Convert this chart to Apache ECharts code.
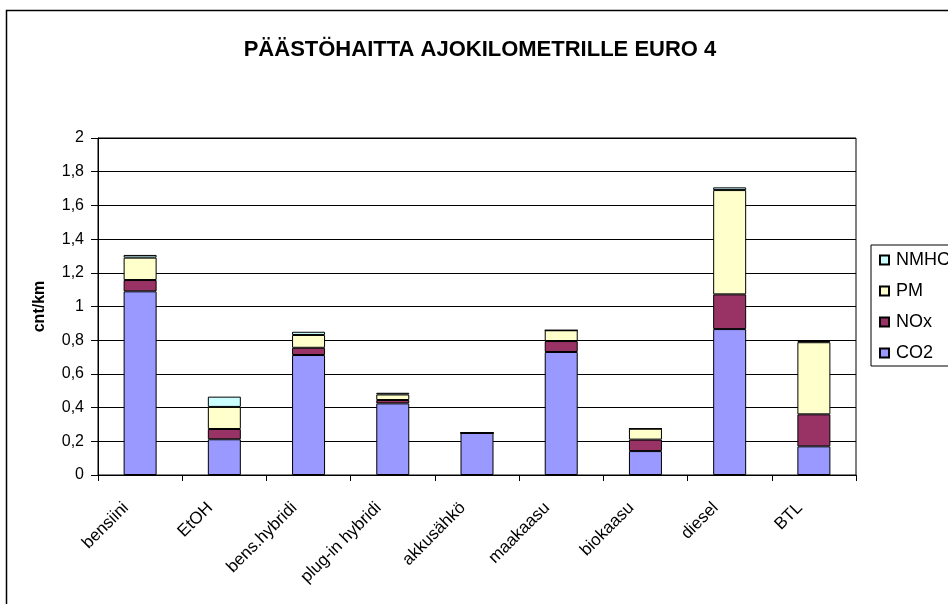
<!DOCTYPE html>
<html>
<head>
<meta charset="utf-8">
<script src="https://cdn.jsdelivr.net/npm/echarts@6/dist/echarts.min.js"></script>
<style>
html,body{margin:0;padding:0;background:#fff;}
#c{width:948px;height:604px;}
</style>
</head>
<body>
<div id="c"></div>
<script>
const categories = ['bensiini','EtOH','bens.hybridi','plug-in hybridi','akkusähkö','maakaasu','biokaasu','diesel','BTL'];
const co2  = [1.09, 0.212, 0.712, 0.425, 0.25, 0.73, 0.142, 0.866, 0.17];
const nox  = [0.067, 0.061, 0.043, 0.02, 0, 0.065, 0.068, 0.206, 0.19];
const pm   = [0.133, 0.131, 0.076, 0.033, 0, 0.064, 0.065, 0.619, 0.428];
const nmhc = [0.016, 0.061, 0.019, 0.01, 0, 0, 0, 0.016, 0.007];
const yTicks = [0, 0.2, 0.4, 0.6, 0.8, 1, 1.2, 1.4, 1.6, 1.8, 2];

const font = 'Liberation Sans, Arial, sans-serif';
const chart = echarts.init(document.getElementById('c'), null, {renderer:'canvas'});
function ser(name, data, color){
  return {
    name, type:'bar', stack:'s', data, barWidth:33,
    itemStyle:{color, borderColor:'#000', borderWidth:1},
    emphasis:{disabled:true}
  };
}
chart.setOption({
  animation:false,
  backgroundColor:'#fff',
  title:{
    text:'PÄÄSTÖHAITTA AJOKILOMETRILLE EURO 4',
    left:475, top:34, textAlign:'center',
    textStyle:{fontFamily:font, fontSize:22, fontWeight:'bold', color:'#000'}
  },
  graphic:[{
    type:'rect', shape:{x:6.5, y:10.5, width:1000, height:700},
    style:{fill:'none', stroke:'#000', lineWidth:1.5}, silent:true, z:-1
  }],
  legend:{
    data:['NMHC','PM','NOx','CO2'],
    orient:'vertical', left:871, top:245,
    itemWidth:9, itemHeight:9, itemGap:13,
    padding:[6,8,4,8],
    borderColor:'#000', borderWidth:1, backgroundColor:'#fff',
    icon:'rect',
    textStyle:{fontFamily:font, fontSize:18, color:'#000', padding:[0,0,0,2]},
    selectedMode:false
  },
  grid:{left:98, right:92, top:138, bottom:129, containLabel:false,
        show:true, borderColor:'#000', borderWidth:1},
  xAxis:{
    type:'category', data:categories,
    axisLine:{lineStyle:{color:'#000', width:1}},
    axisTick:{show:true, length:6, lineStyle:{color:'#000'}},
    axisLabel:{rotate:45, fontFamily:font, fontSize:17, color:'#000', margin:16, interval:0,
      padding:[0,20,0,0]}
  },
  yAxis:{
    type:'value', min:0, max:2, interval:0.2,
    name:'cnt/km', nameLocation:'middle', nameGap:50,
    nameTextStyle:{fontFamily:font, fontSize:16, fontWeight:'bold', color:'#000'},
    axisLine:{show:true, lineStyle:{color:'#000', width:1}},
    axisTick:{show:true, length:7, lineStyle:{color:'#000'}},
    axisLabel:{fontFamily:font, fontSize:16, color:'#000', margin:14,
      formatter:v=>{ const t = yTicks.find(x=>Math.abs(x-v)<1e-9); return String(t!==undefined?t:v).replace('.',','); }},
    splitLine:{show:true, lineStyle:{color:'#000', width:1}}
  },
  series:[
    ser('CO2', co2, '#9999FF'),
    ser('NOx', nox, '#993366'),
    ser('PM', pm, '#FFFFCC'),
    ser('NMHC', nmhc, '#CCFFFF')
  ]
});
</script>
</body>
</html>
